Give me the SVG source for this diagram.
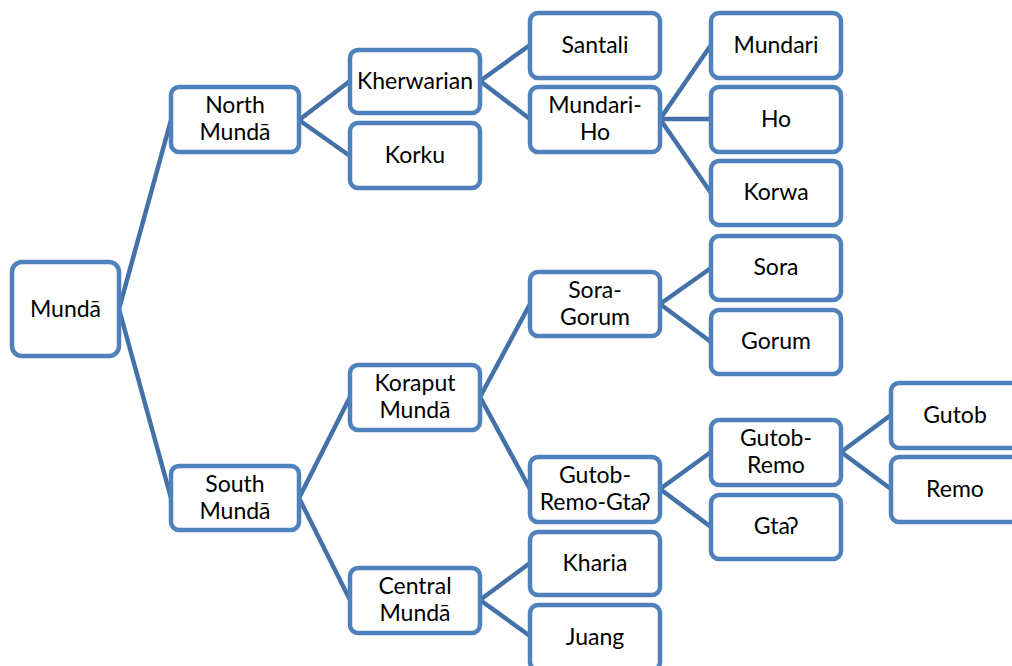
<svg xmlns="http://www.w3.org/2000/svg" width="1012" height="666" viewBox="0 0 1012 666">
<style>
rect{fill:#fff;stroke:#4F81BD;stroke-width:4.5}
text{font-family:Lato,"Open Sans","Liberation Sans",sans-serif;font-size:23px;fill:#000;text-anchor:middle}
#connectors line{stroke:#4472A8;stroke-width:4.5;stroke-linecap:round}
</style>
<rect x="0" y="0" width="1012" height="666" style="fill:#fff;stroke:none"/>
<g id="connectors">
<line x1="119" y1="309" x2="171" y2="120"/>
<line x1="119" y1="309" x2="171" y2="498"/>
<line x1="299" y1="120" x2="350" y2="81"/>
<line x1="299" y1="120" x2="350" y2="156"/>
<line x1="480" y1="81" x2="530" y2="45"/>
<line x1="480" y1="81" x2="530" y2="119"/>
<line x1="660" y1="119" x2="711" y2="45"/>
<line x1="660" y1="119" x2="711" y2="119"/>
<line x1="660" y1="119" x2="711" y2="193"/>
<line x1="299" y1="498" x2="350" y2="397"/>
<line x1="299" y1="498" x2="350" y2="600"/>
<line x1="480" y1="397" x2="530" y2="304"/>
<line x1="480" y1="397" x2="530" y2="489"/>
<line x1="660" y1="304" x2="711" y2="268"/>
<line x1="660" y1="304" x2="711" y2="342"/>
<line x1="660" y1="489" x2="711" y2="452"/>
<line x1="660" y1="489" x2="711" y2="527"/>
<line x1="841" y1="452" x2="891" y2="415"/>
<line x1="841" y1="452" x2="891" y2="489"/>
<line x1="480" y1="600" x2="530" y2="563"/>
<line x1="480" y1="600" x2="530" y2="636"/>
</g>
<g id="munda"><rect x="12" y="262" width="107" height="94" rx="10"/><text x="65.5" y="317">Mundā</text></g>
<g id="north-munda"><rect x="171" y="87" width="128" height="65" rx="8"/><text x="235" y="113">North</text><text x="235" y="140">Mundā</text></g>
<g id="south-munda"><rect x="171" y="466" width="128" height="64" rx="8"/><text x="235" y="492">South</text><text x="235" y="519">Mundā</text></g>
<g id="kherwarian"><rect x="350" y="50" width="130" height="63" rx="8"/><text x="415" y="89">Kherwarian</text></g>
<g id="korku"><rect x="350" y="123" width="130" height="65" rx="8"/><text x="415" y="163">Korku</text></g>
<g id="santali"><rect x="530" y="13" width="130" height="65" rx="8"/><text x="595" y="53">Santali</text></g>
<g id="mundari-ho"><rect x="530" y="87" width="130" height="65" rx="8"/><text x="595" y="113">Mundari-</text><text x="595" y="140">Ho</text></g>
<g id="mundari"><rect x="711" y="13" width="130" height="65" rx="8"/><text x="776" y="53">Mundari</text></g>
<g id="ho"><rect x="711" y="87" width="130" height="65" rx="8"/><text x="776" y="127">Ho</text></g>
<g id="korwa"><rect x="711" y="161" width="130" height="64" rx="8"/><text x="776" y="200">Korwa</text></g>
<g id="koraput-munda"><rect x="350" y="365" width="130" height="65" rx="8"/><text x="415" y="391">Koraput</text><text x="415" y="418">Mundā</text></g>
<g id="sora-gorum"><rect x="530" y="272" width="130" height="64" rx="8"/><text x="595" y="298">Sora-</text><text x="595" y="325">Gorum</text></g>
<g id="sora"><rect x="711" y="236" width="130" height="64" rx="8"/><text x="776" y="275">Sora</text></g>
<g id="gorum"><rect x="711" y="310" width="130" height="64" rx="8"/><text x="776" y="349">Gorum</text></g>
<g id="gutob-remo-gta"><rect x="530" y="457" width="130" height="65" rx="8"/><text x="595" y="483">Gutob-</text><text x="595" y="510">Remo-Gtaʔ</text></g>
<g id="gutob-remo"><rect x="711" y="420" width="130" height="65" rx="8"/><text x="776" y="446">Gutob-</text><text x="776" y="473">Remo</text></g>
<g id="gta"><rect x="711" y="495" width="130" height="64" rx="8"/><text x="776" y="534">Gtaʔ</text></g>
<g id="gutob"><rect x="891" y="383" width="130" height="65" rx="8"/><text x="955" y="423">Gutob</text></g>
<g id="remo"><rect x="891" y="457" width="130" height="65" rx="8"/><text x="955" y="497">Remo</text></g>
<g id="central-munda"><rect x="350" y="568" width="130" height="65" rx="8"/><text x="415" y="594">Central</text><text x="415" y="621">Mundā</text></g>
<g id="kharia"><rect x="530" y="532" width="130" height="63" rx="8"/><text x="595" y="571">Kharia</text></g>
<g id="juang"><rect x="530" y="605" width="130" height="65" rx="8"/><text x="595" y="645">Juang</text></g>
</svg>
